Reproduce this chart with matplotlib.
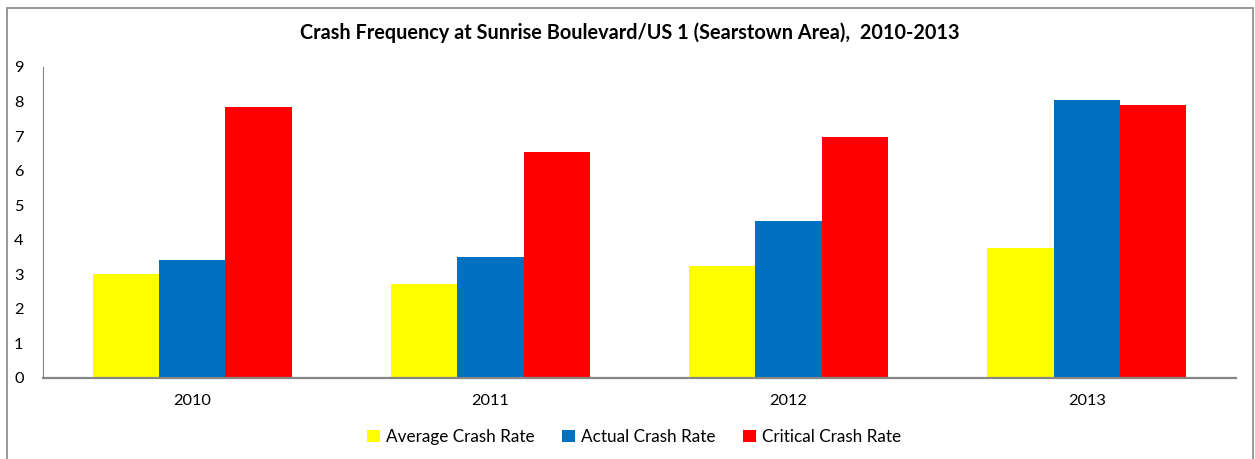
import numpy as np
import matplotlib
matplotlib.use("Agg")
import matplotlib.pyplot as plt
from matplotlib.patches import Rectangle

plt.rcParams['font.family'] = ['Lato', 'DejaVu Sans']

years = ["2010", "2011", "2012", "2013"]
average_rate = [3.00, 2.70, 3.23, 3.76]
actual_rate = [3.42, 3.50, 4.55, 8.05]
critical_rate = [7.83, 6.54, 6.97, 7.90]

series_names = ["Average Crash Rate", "Actual Crash Rate", "Critical Crash Rate"]
colors = ["#FFFF00", "#0070C0", "#FF0000"]

fig = plt.figure(figsize=(12.55, 4.59), dpi=100)
ax = fig.add_axes([43 / 1255, 1 - 377.7 / 459, (1236 - 43) / 1255, (377.7 - 67) / 459])

x = np.arange(len(years))
w = 1 / 4.5
for i, (vals, name, c) in enumerate(zip([average_rate, actual_rate, critical_rate], series_names, colors)):
    ax.bar(x + (i - 1) * w, vals, width=w, color=c, label=name, zorder=2)

ax.set_xlim(-0.5, 3.5)
ax.set_ylim(0, 9)
ax.set_yticks(range(10))
ax.set_xticks(x)
ax.set_xticklabels(years)
ax.tick_params(axis='both', length=0, labelsize=11.8, colors='black')
ax.tick_params(axis='y', pad=14)
ax.tick_params(axis='x', pad=12)
for s in ['top', 'right']:
    ax.spines[s].set_visible(False)
ax.spines['left'].set_color('#868686')
ax.spines['left'].set_linewidth(0.8)
ax.spines['bottom'].set_color('#868686')
ax.spines['bottom'].set_linewidth(1.6)

fig.text(630 / 1255, 1 - 33 / 459, "Crash Frequency at Sunrise Boulevard/US 1 (Searstown Area),  2010-2013",
         ha='center', va='center', fontsize=14.3, fontweight='bold')

leg = fig.legend(loc='center', bbox_to_anchor=(634 / 1255, 1 - 437 / 459), ncol=3, frameon=False,
                 fontsize=12.3, handlelength=0.75, handleheight=0.75, handletextpad=0.35, columnspacing=1.6)

fig.add_artist(Rectangle((7 / 1255, -0.05), (1253 - 7) / 1255, 1.05 - 8 / 459, transform=fig.transFigure,
                         fill=False, edgecolor='#868686', linewidth=1.2))

fig.savefig("out.png", dpi=100)
